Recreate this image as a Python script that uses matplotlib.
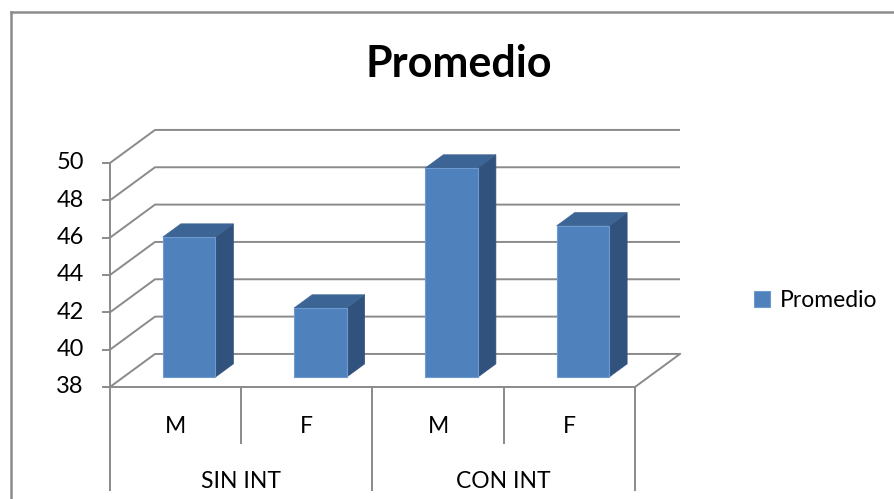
import numpy as np
import matplotlib.pyplot as plt
from matplotlib.patches import Polygon, Rectangle
from matplotlib.lines import Line2D

plt.rcParams['font.family'] = ['Lato', 'DejaVu Sans']

# ── data ──────────────────────────────────────────────────────────────────────
groups = ['SIN INT', 'CON INT']
sexes = ['M', 'F', 'M', 'F']
promedio = [45.5, 41.7, 49.2, 46.1]
y_ticks = [38, 40, 42, 44, 46, 48, 50]

# ── 3D look ───────────────────────────────────────────────────────────────────
DX, DY = 0.343, 1.77          # full depth of the box, in data units
bar_z0, bar_depth = 0.3, 0.4  # bar position inside the depth (fractions)
bar_w = 0.4
c_front, c_top, c_side = '#4F81BD', '#3C6494', '#31527C'
grid_c = '#8A8A8A'
fs = 16.5

fig = plt.figure(figsize=(8.95, 4.99), dpi=100)
ax = fig.add_axes([0, 0, 1, 1])
ax.set_xlim(-0.838, 5.981)
ax.set_ylim(32.0, 58.73)
ax.axis('off')

ymin, ymax = y_ticks[0], y_ticks[-1]
n = len(promedio)

# gridlines: left wall diagonal + back wall
for v in y_ticks:
    ax.plot([0, DX, n + DX], [v, v + DY, v + DY], color=grid_c, lw=1.4,
            solid_capstyle='butt', zorder=1)
    ax.plot([-0.055, 0], [v, v], color=grid_c, lw=1.4, zorder=1)
    ax.text(-0.2, v, str(v), ha='right', va='center', fontsize=fs + 0.5)

# front value axis and floor
ax.plot([0, 0], [ymin, ymax], color=grid_c, lw=1.4, zorder=1)
ax.plot([0, n, n + DX], [ymin, ymin, ymin + DY], color=grid_c, lw=1.4, zorder=1)

# bars
dz_x, dz_y = bar_z0 * DX, bar_z0 * DY
bx, by = bar_depth * DX, bar_depth * DY
for i, val in enumerate(promedio):
    x0 = i + 0.5 - bar_w / 2 + dz_x
    y0 = ymin + dz_y
    top = val + dz_y
    side = Polygon([(x0 + bar_w, y0), (x0 + bar_w + bx, y0 + by),
                    (x0 + bar_w + bx, top + by), (x0 + bar_w, top)],
                   closed=True, facecolor=c_side, edgecolor=c_side, lw=0.5, zorder=3)
    roof = Polygon([(x0, top), (x0 + bar_w, top), (x0 + bar_w + bx, top + by),
                    (x0 + bx, top + by)],
                   closed=True, facecolor=c_top, edgecolor=c_top, lw=0.5, zorder=3)
    front = Rectangle((x0, y0), bar_w, top - y0, facecolor=c_front,
                      edgecolor='#6E9AD0', lw=0.8, zorder=4,
                      label='Promedio' if i == 0 else None)
    ax.add_patch(side)
    ax.add_patch(roof)
    ax.add_patch(front)

# category axis (two levels)
for k in range(n + 1):
    low = 32.48 if k % 2 == 0 else 35.0
    ax.plot([k, k], [ymin, low], color=grid_c, lw=1.4, zorder=1)
for i, s in enumerate(sexes):
    ax.text(i + 0.5, 35.86, s, ha='center', va='center', fontsize=fs)
for g, name in enumerate(groups):
    ax.text(2 * g + 1, 32.96, name, ha='center', va='center', fontsize=fs)

# title and legend
fig.text(0.513, 0.872, 'Promedio', ha='center', va='center',
         fontsize=31, fontweight='bold')
ax.legend(loc='center left', bbox_to_anchor=(0.830, 0.397), frameon=False,
          fontsize=fs, handlelength=0.7, handleheight=0.7, handletextpad=0.4,
          borderpad=0)

# chart area border (top and left edges visible)
fig.add_artist(Line2D([11 / 895, 11 / 895], [0, 1 - 12 / 499], color='#8C8C8C',
                      lw=1.8, transform=fig.transFigure))
fig.add_artist(Line2D([11 / 895, 1], [1 - 12 / 499, 1 - 12 / 499], color='#8C8C8C',
                      lw=1.8, transform=fig.transFigure))

fig.savefig('out.png', dpi=100, facecolor='white')
